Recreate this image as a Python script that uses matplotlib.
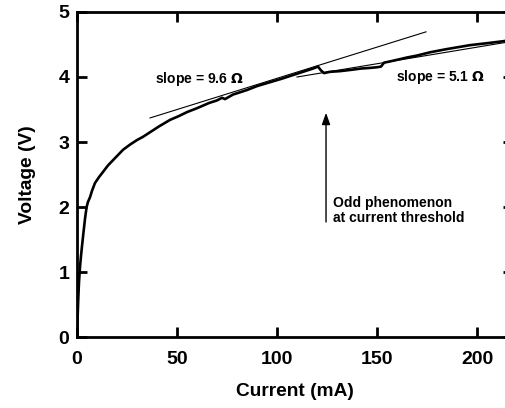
import matplotlib
matplotlib.use("Agg")
import numpy as np
import matplotlib.pyplot as plt

plt.rcParams['font.family'] = ['Liberation Sans', 'DejaVu Sans']
plt.rcParams['font.weight'] = 'bold'

# measured I-V trace
current_ma = [0.1, 0.3, 0.6, 1.0, 1.5, 2.0, 2.5, 3.2, 4.0, 4.8, 5.5, 6.5, 7.5,
              9.0, 11.0, 13.0, 15.5, 18.0, 20.5, 23.0, 26.5, 30.0, 33.0, 36.5,
              41.0, 46.5, 51.0, 55.0, 60.0, 66.0, 70.0, 72.5, 74.0, 78.0, 85.0,
              90.0, 96.5, 102.0, 108.0, 114.0, 118.0, 120.5, 122.0, 123.5,
              126.5, 131.5, 137.0, 142.0, 146.5, 150.0, 152.0, 153.5, 158.0,
              165.0, 170.0, 176.5, 185.0, 196.5, 205.0, 213.0, 219.0]
voltage_v = [0.10, 0.30, 0.57, 0.85, 1.08, 1.25, 1.40, 1.60, 1.82, 2.00, 2.08,
             2.15, 2.25, 2.37, 2.46, 2.54, 2.64, 2.72, 2.80, 2.88, 2.96, 3.03,
             3.08, 3.15, 3.24, 3.34, 3.40, 3.46, 3.52, 3.60, 3.64, 3.68, 3.66,
             3.73, 3.80, 3.86, 3.92, 3.97, 4.03, 4.09, 4.13, 4.16, 4.10, 4.06,
             4.08, 4.09, 4.11, 4.13, 4.14, 4.15, 4.16, 4.22, 4.25, 4.30, 4.33,
             4.38, 4.43, 4.49, 4.52, 4.55, 4.58]

# tangent lines: (start mA, end mA, start V, slope in ohms)
low_fit = (36.5, 174.5, 3.37, 9.6)
high_fit = (110.0, 218.0, 4.00, 5.1)

x_ticks = [0, 50, 100, 150, 200]
y_ticks = [0, 1, 2, 3, 4, 5]

fig = plt.figure(figsize=(5.06, 4.08), dpi=100)
# right spine sits just past the image edge; only its tick tips show
ax = fig.add_axes([0.1522, 0.174, 0.8617, 0.7966])

ax.plot(current_ma, voltage_v, color='black', lw=1.9, solid_joinstyle='round')

for i0, i1, v0, ohms in (low_fit, high_fit):
    xs = np.array([i0, i1])
    ax.plot(xs, v0 + ohms * (xs - i0) / 1000.0, color='black', lw=0.8)

ax.text(61, 3.97, r'slope = 9.6 $\Omega$', ha='center', va='center', fontsize=10)
ax.text(181.5, 4.0, r'slope = 5.1 $\Omega$', ha='center', va='center', fontsize=10)

ax.annotate('', xy=(124.5, 3.45), xytext=(124.5, 1.77),
            arrowprops=dict(arrowstyle='-|>,head_length=0.7,head_width=0.25',
                            color='black', lw=1.0, shrinkA=0, shrinkB=0))
ax.text(128, 1.94, 'Odd phenomenon\nat current threshold', ha='left',
        va='center', fontsize=10, linespacing=1.1)

ax.set_xlim(0, 218)
ax.set_ylim(0, 5)
ax.set_xticks(x_ticks)
ax.set_yticks(y_ticks)
for s in ax.spines.values():
    s.set_linewidth(2)
ax.tick_params(direction='in', length=7.2, width=2, top=True, right=True,
               labelsize=14)
ax.tick_params(axis='x', pad=10)
ax.tick_params(axis='y', pad=5.5)
ax.set_xlabel('Current (mA)', fontsize=13.8, fontweight='bold', labelpad=11)
ax.set_ylabel('Voltage (V)', fontsize=13.8, fontweight='bold', labelpad=16)

fig.savefig('out.png', dpi=100)
